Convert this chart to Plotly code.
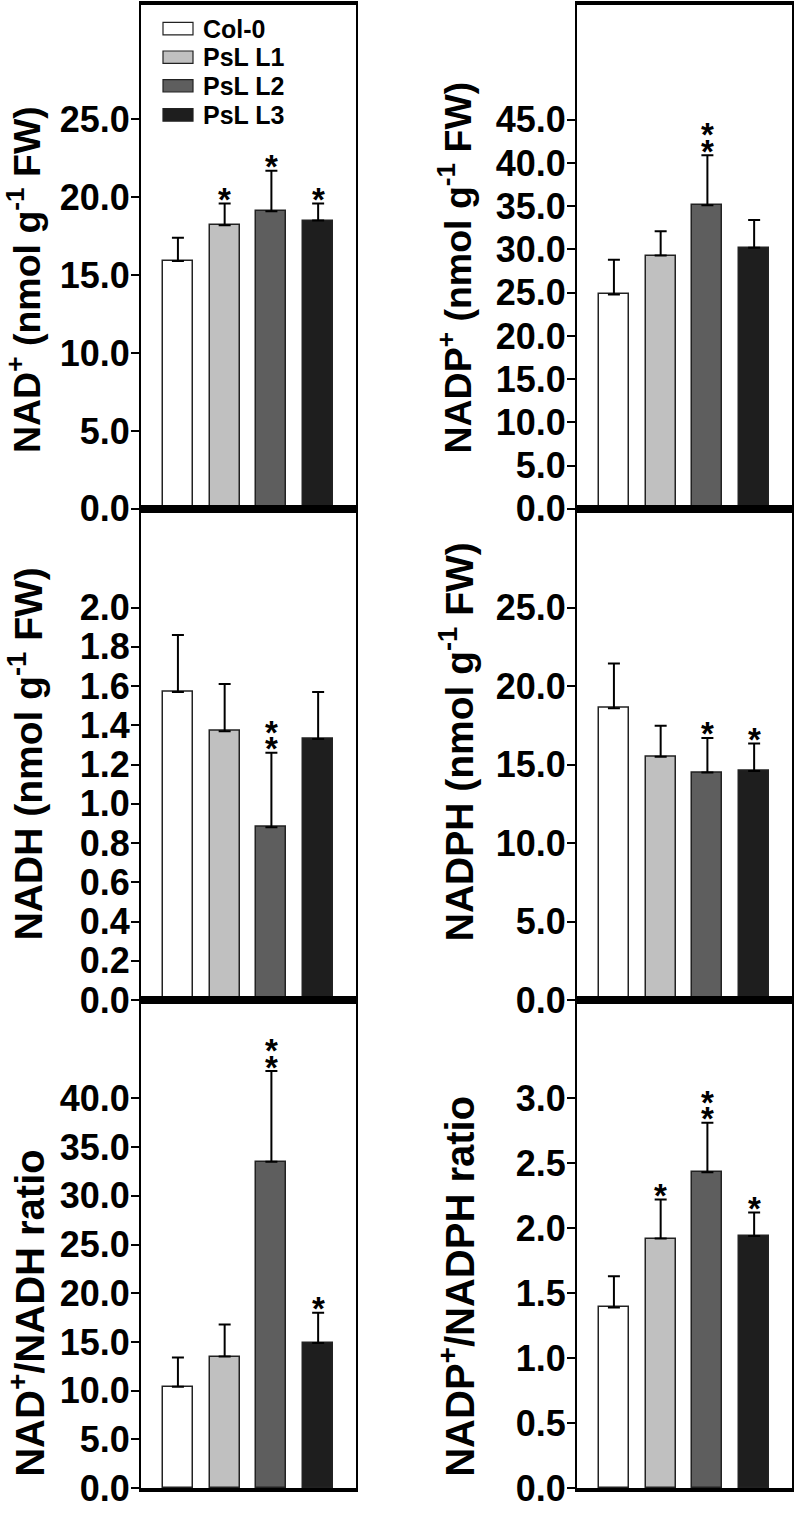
import plotly.graph_objects as go

# ---------------- data ----------------
categories = ["Col-0", "PsL L1", "PsL L2", "PsL L3"]
bar_colors = ["#ffffff", "#c0c0c0", "#5e5e5e", "#1e1e1e"]

nad_values = [15.9, 18.2, 19.1, 18.5]
nad_errors = [1.5, 1.4, 2.6, 1.1]
nad_stars = [0, 1, 1, 1]

nadp_values = [24.8, 29.3, 35.1, 30.2]
nadp_errors = [4.0, 2.8, 5.8, 3.2]
nadp_stars = [0, 0, 2, 0]

nadh_values = [1.57, 1.37, 0.88, 1.33]
nadh_errors = [0.29, 0.24, 0.38, 0.24]
nadh_stars = [0, 0, 2, 0]

nadph_values = [18.6, 15.5, 14.5, 14.6]
nadph_errors = [2.85, 1.97, 2.2, 1.75]
nadph_stars = [0, 0, 1, 1]

nad_ratio_values = [10.4, 13.5, 33.5, 14.9]
nad_ratio_errors = [3.0, 3.3, 9.3, 3.1]
nad_ratio_stars = [0, 0, 2, 1]

nadp_ratio_values = [1.39, 1.92, 2.43, 1.94]
nadp_ratio_errors = [0.24, 0.30, 0.38, 0.18]
nadp_ratio_stars = [0, 1, 2, 1]

nad_ticks = [0, 5, 10, 15, 20, 25]
nadp_ticks = [0, 5, 10, 15, 20, 25, 30, 35, 40, 45]
nadh_ticks = [0, 0.2, 0.4, 0.6, 0.8, 1.0, 1.2, 1.4, 1.6, 1.8, 2.0]
nadph_ticks = [0, 5, 10, 15, 20, 25]
nad_ratio_ticks = [0, 5, 10, 15, 20, 25, 30, 35, 40]
nadp_ratio_ticks = [0, 0.5, 1.0, 1.5, 2.0, 2.5, 3.0]

titles = [
    "NAD<sup>+</sup> (nmol g<sup>-1</sup> FW)",
    "NADP<sup>+</sup> (nmol g<sup>-1</sup> FW)",
    "NADH (nmol g<sup>-1</sup> FW)",
    "NADPH (nmol g<sup>-1</sup> FW)",
    "NAD<sup>+</sup>/NADH ratio",
    "NADP<sup>+</sup>/NADPH ratio",
]

panels = [
    dict(v=nad_values, e=nad_errors, s=nad_stars, t=nad_ticks, top=32.34),
    dict(v=nadp_values, e=nadp_errors, s=nadp_stars, t=nadp_ticks, top=58.27),
    dict(v=nadh_values, e=nadh_errors, s=nadh_stars, t=nadh_ticks, top=2.503),
    dict(v=nadph_values, e=nadph_errors, s=nadph_stars, t=nadph_ticks, top=31.3),
    dict(v=nad_ratio_values, e=nad_ratio_errors, s=nad_ratio_stars, t=nad_ratio_ticks, top=50.1),
    dict(v=nadp_ratio_values, e=nadp_ratio_errors, s=nadp_ratio_stars, t=nadp_ratio_ticks, top=3.755),
]

# ---------------- layout geometry (pixels) ----------------
W, H = 797, 1520
col_px = [(141, 356), (577, 792)]
row_px = [(5, 516), (516, 1014), (1014, 1509)]
title_x_px = [[24, 455], [25, 456], [27, 457]]
title_bottom_px = [[462, 462], [956, 957], [1500, 1500]]
title_size = [37.5, 39, 40]
FONT = "Liberation Sans, Arial, Helvetica, sans-serif"

fig = go.Figure()
annotations = []
shapes = []
layout_axes = {}

for i, p in enumerate(panels):
    r, c = divmod(i, 2)
    n = i + 1
    xa = "x" if n == 1 else f"x{n}"
    ya = "y" if n == 1 else f"y{n}"
    xkey = "xaxis" if n == 1 else f"xaxis{n}"
    ykey = "yaxis" if n == 1 else f"yaxis{n}"
    xs = list(range(len(categories)))
    fig.add_trace(go.Bar(
        x=xs, y=p["v"], width=0.64,
        marker=dict(color=bar_colors, line=dict(color="#222222", width=1.5)),
        error_y=dict(type="data", array=p["e"], arrayminus=[0] * len(xs),
                     symmetric=False, color="black", thickness=2, width=6),
        xaxis=xa, yaxis=ya, showlegend=False, name=titles[i],
        hovertext=categories,
    ))
    x0, x1 = col_px[c]
    y0, y1 = row_px[r]
    layout_axes[xkey] = dict(
        domain=[x0 / W, x1 / W], range=[-0.79, 3.81], anchor=ya,
        showticklabels=False, ticks="", showgrid=False, zeroline=False,
        showline=True, linecolor="black", linewidth=3.5, mirror=True,
    )
    layout_axes[ykey] = dict(
        domain=[1 - y1 / H, 1 - y0 / H], range=[0, p["top"]], anchor=xa,
        tickvals=p["t"], ticktext=[f"{t:.1f}" for t in p["t"]],
        ticks="outside", ticklen=8, tickwidth=2, tickcolor="black",
        ticklabelstandoff=-6,
        tickfont=dict(family=FONT, size=36, color="black", weight="bold"),
        showgrid=False, zeroline=False,
        showline=True, linecolor="black", linewidth=2, mirror=True,
    )
    # significance stars
    for k, (val, err, ns) in enumerate(zip(p["v"], p["e"], p["s"])):
        for j in range(ns):
            annotations.append(dict(
                x=k, y=val + err, xref=xa, yref=ya, text="*", showarrow=False,
                yanchor="middle", xanchor="center", yshift=4 + 16.7 * j,
                font=dict(family=FONT, size=33, color="black", weight="bold"),
            ))
    # y axis title
    annotations.append(dict(
        x=title_x_px[r][c] / W, y=1 - title_bottom_px[r][c] / H, xref="paper", yref="paper",
        text=titles[i], textangle=-90, showarrow=False,
        xanchor="center", yanchor="bottom",
        font=dict(family=FONT, size=title_size[r], color="black", weight="bold"),
    ))

# legend (top-left panel)
legend_rows_px = [29, 58, 87, 116.5]
for name, col, yc in zip(categories, bar_colors, legend_rows_px):
    shapes.append(dict(
        type="rect", xref="paper", yref="paper",
        x0=163 / W, x1=193 / W, y0=1 - (yc + 6.3) / H, y1=1 - (yc - 6.3) / H,
        fillcolor=col, line=dict(color="#222222", width=1.2),
    ))
    annotations.append(dict(
        x=201 / W, y=1 - yc / H, xref="paper", yref="paper", text=name,
        showarrow=False, xanchor="left", yanchor="middle",
        font=dict(family=FONT, size=25, color="black", weight="bold"),
    ))

fig.update_layout(
    width=W, height=H, margin=dict(l=0, r=0, t=0, b=0),
    paper_bgcolor="white", plot_bgcolor="white",
    annotations=annotations, shapes=shapes, bargap=0,
    **layout_axes,
)

fig.write_html("out.html", config={"displayModeBar": False},
               post_script="document.body.style.margin='0';")
